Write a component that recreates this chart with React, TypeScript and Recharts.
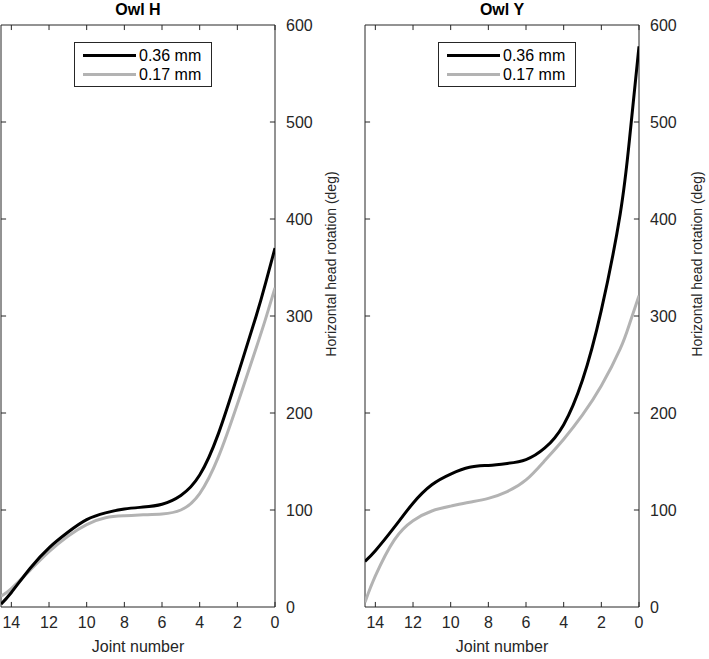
import React from 'react';
import { LineChart, Line, XAxis, YAxis, ReferenceArea, ReferenceLine } from 'recharts';

// joint positions (x) shared by all series, left edge of the axis first
const joints = [14.55, 14, 13, 12, 11, 10, 9, 8, 7, 6, 5, 4, 3, 2, 1, 0.5, 0];

// horizontal head rotation (deg)
const owlH036 = [3, 15, 40, 61, 77, 90, 97, 101, 103, 106, 115, 136, 179, 238, 300, 334, 370];
const owlH017 = [11, 19, 38, 57, 73, 85, 92, 94, 95, 96, 100, 117, 155, 209, 267, 297, 329];
const owlY036 = [47, 58, 82, 107, 126, 137, 144, 146, 148, 152, 164, 188, 234, 306, 405, 483, 578];
const owlY017 = [5, 32, 69, 89, 99, 104, 108, 112, 119, 131, 151, 173, 198, 228, 266, 292, 321];

const xTicks = [0, 2, 4, 6, 8, 10, 12, 14];
const yTicks = [0, 100, 200, 300, 400, 500, 600];
const innerYTicks = [100, 200, 300, 400, 500];

const X_MAX = 14.55;
const Y_MAX = 600;
const FONT = '"Liberation Sans", Arial, sans-serif';
const AXIS = '#262626';
const THICK = '#000000';
const THIN = '#b3b3b3';

function Panel({
  title,
  thick,
  thin,
  left,
  width,
  yAxisWidth,
  labelGap,
}: {
  title: string;
  thick: number[];
  thin: number[];
  left: number;
  width: number;
  yAxisWidth: number;
  labelGap: number;
}) {
  const rows = joints.map((j, i) => ({ joint: j, d036: thick[i], d017: thin[i] }));
  const plotLeft = left + 1;
  const plotW = width - 1 - yAxisWidth;
  const center = plotLeft + plotW / 2;
  // inward tick length in data units
  const tlY = 5.2;
  const tlX = 0.27;

  return (
    <>
      <div
        style={{
          position: 'absolute',
          left: center - 60,
          width: 120,
          top: 1,
          textAlign: 'center',
          fontFamily: FONT,
          fontWeight: 'bold',
          fontSize: 16,
          color: '#000',
        }}
      >
        {title}
      </div>
      <div style={{ position: 'absolute', left, top: 0 }}>
        <LineChart width={width} height={659} data={rows} margin={{ top: 25, right: 0, left: 1, bottom: 0 }}>
          <XAxis
            dataKey="joint"
            type="number"
            domain={[0, X_MAX]}
            reversed
            allowDataOverflow
            ticks={xTicks}
            height={52}
            axisLine={false}
            tickLine={false}
            tickSize={0}
            tickMargin={10}
            tick={{ fill: AXIS, fontSize: 16, fontFamily: FONT }}
            label={{ value: 'Joint number', position: 'insideBottom', offset: 7, fill: AXIS, fontSize: 16, fontFamily: FONT }}
          />
          <YAxis
            orientation="right"
            type="number"
            domain={[0, Y_MAX]}
            ticks={yTicks}
            width={yAxisWidth}
            axisLine={false}
            tickLine={false}
            tickSize={0}
            tickMargin={11}
            tick={{ fill: AXIS, fontSize: 16, fontFamily: FONT }}
            label={{
              content: ({ viewBox }: any) => {
                const x = viewBox.x + labelGap;
                const y = 264;
                return (
                  <text
                    x={x}
                    y={y}
                    transform={`rotate(-90 ${x} ${y})`}
                    textAnchor="middle"
                    dominantBaseline="central"
                    fill={AXIS}
                    fontSize={14}
                    fontFamily={FONT}
                  >
                    Horizontal head rotation (deg)
                  </text>
                );
              },
            }}
          />
          <ReferenceArea x1={0} x2={X_MAX} y1={0} y2={Y_MAX} fill="none" stroke={AXIS} strokeWidth={1} ifOverflow="visible" />
          {xTicks.map((t) => (
            <ReferenceLine key={'b' + t} segment={[{ x: t, y: 0 }, { x: t, y: tlY }]} stroke={AXIS} />
          ))}
          {xTicks.map((t) => (
            <ReferenceLine key={'t' + t} segment={[{ x: t, y: Y_MAX }, { x: t, y: Y_MAX - tlY }]} stroke={AXIS} />
          ))}
          {innerYTicks.map((t) => (
            <ReferenceLine key={'l' + t} segment={[{ x: X_MAX, y: t }, { x: X_MAX - tlX, y: t }]} stroke={AXIS} />
          ))}
          {innerYTicks.map((t) => (
            <ReferenceLine key={'r' + t} segment={[{ x: 0, y: t }, { x: tlX, y: t }]} stroke={AXIS} />
          ))}
          <Line type="natural" dataKey="d017" stroke={THIN} strokeWidth={3} dot={false} isAnimationActive={false} />
          <Line type="natural" dataKey="d036" stroke={THICK} strokeWidth={3} dot={false} isAnimationActive={false} />
        </LineChart>
      </div>
      <div
        style={{
          position: 'absolute',
          left: plotLeft + 73,
          top: 42,
          width: 136,
          height: 43,
          border: `1px solid ${AXIS}`,
          background: '#fff',
          fontFamily: FONT,
          fontSize: 16,
          color: '#000',
        }}
      >
        {[
          { label: '0.36 mm', color: THICK },
          { label: '0.17 mm', color: THIN },
        ].map((it, i) => (
          <div key={it.label} style={{ position: 'absolute', left: 8, top: 3 + i * 19, height: 19, display: 'flex', alignItems: 'center' }}>
            <span style={{ display: 'inline-block', width: 53, height: 3, background: it.color, marginRight: 3 }} />
            <span style={{ lineHeight: '19px' }}>{it.label}</span>
          </div>
        ))}
      </div>
    </>
  );
}

export default function App() {
  return (
    <div
      style={{
        position: 'absolute',
        left: 0,
        top: 0,
        width: 709,
        height: 659,
        overflow: 'hidden',
        background: '#fff',
      }}
    >
      <Panel title="Owl H" thick={owlH036} thin={owlH017} left={0} width={360} yAxisWidth={85} labelGap={56} />
      <Panel title="Owl Y" thick={owlY036} thin={owlY017} left={364} width={345} yAxisWidth={70} labelGap={58} />
    </div>
  );
}
